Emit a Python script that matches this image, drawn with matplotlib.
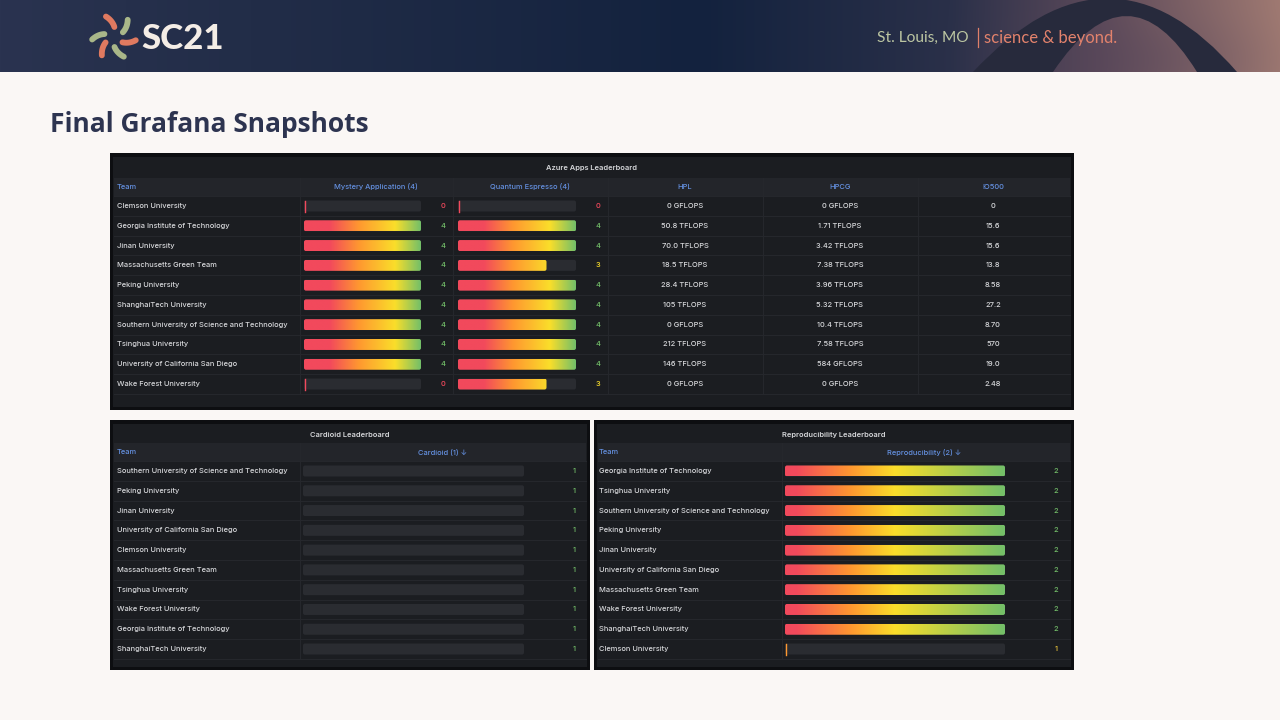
import numpy as np
import matplotlib.pyplot as plt
from matplotlib.colors import LinearSegmentedColormap, to_rgb
from matplotlib.patches import Rectangle, FancyBboxPatch, PathPatch
from matplotlib.path import Path

# ---------------------------------------------------------------- data
azure_teams = ['Clemson University', 'Georgia Institute of Technology', 'Jinan University',
               'Massachusetts Green Team', 'Peking University', 'ShanghaiTech University',
               'Southern University of Science and Technology', 'Tsinghua University',
               'University of California San Diego', 'Wake Forest University']
mystery = [0, 4, 4, 4, 4, 4, 4, 4, 4, 0]
quantum = [0, 4, 4, 3, 4, 4, 4, 4, 4, 3]
hpl = ['0 GFLOPS', '50.8 TFLOPS', '70.0 TFLOPS', '18.5 TFLOPS', '28.4 TFLOPS',
       '105 TFLOPS', '0 GFLOPS', '212 TFLOPS', '146 TFLOPS', '0 GFLOPS']
hpcg = ['0 GFLOPS', '1.71 TFLOPS', '3.42 TFLOPS', '7.38 TFLOPS', '3.96 TFLOPS',
        '5.32 TFLOPS', '10.4 TFLOPS', '7.58 TFLOPS', '584 GFLOPS', '0 GFLOPS']
io500 = ['0', '15.6', '15.6', '13.8', '8.58', '27.2', '8.70', '570', '19.0', '2.48']
azure_cols = ['Team', 'Mystery Application (4)', 'Quantum Espresso (4)', 'HPL', 'HPCG', 'IO500']

cardioid_teams = ['Southern University of Science and Technology', 'Peking University',
                  'Jinan University', 'University of California San Diego', 'Clemson University',
                  'Massachusetts Green Team', 'Tsinghua University', 'Wake Forest University',
                  'Georgia Institute of Technology', 'ShanghaiTech University']
cardioid = [1, 1, 1, 1, 1, 1, 1, 1, 1, 1]

repro_teams = ['Georgia Institute of Technology', 'Tsinghua University',
               'Southern University of Science and Technology', 'Peking University',
               'Jinan University', 'University of California San Diego',
               'Massachusetts Green Team', 'Wake Forest University',
               'ShanghaiTech University', 'Clemson University']
repro = [2, 2, 2, 2, 2, 2, 2, 2, 2, 1]

# ---------------------------------------------------------------- style
RED, ORANGE, YELLOW, GREEN = '#f2495c', '#ff9830', '#fade2a', '#73bf69'
azure_cmap = LinearSegmentedColormap.from_list(
    'az', [(0, RED), (0.22, RED), (0.47, ORANGE), (0.78, YELLOW), (1, GREEN)])
repro_cmap = LinearSegmentedColormap.from_list(
    'rp', [(0, RED), (0.05, RED), (0.3, ORANGE), (0.5, YELLOW), (1, GREEN)])
azure_vcol = {0: RED, 3: YELLOW, 4: GREEN}
repro_vcol = {1: '#eac43a', 2: GREEN}

PANEL = '#1b1d21'
HEAD = '#23252a'
SEP = '#26282d'
BAR_BG = '#2a2c31'
TXT = '#d6d7da'
BLUE = '#6490e0'
TFONT = ['Inter', 'DejaVu Sans']
FS = 5.4
TW = 'medium'
grad = np.linspace(0, 1, 256).reshape(1, -1)

fig = plt.figure(figsize=(12.8, 7.2), dpi=100)
fig.patch.set_facecolor('#faf7f5')
ax = fig.add_axes([0, 0, 1, 1])
ax.axis('off')

# ---------------------------------------------------------------- banner
xs = np.arange(1280)
stops_x = [0, 250, 700, 950, 1100, 1280]
stops_c = ['#2a3350', '#222d48', '#13223e', '#2a3049', '#5d4a5a', '#a07a72']
band = np.zeros((72, 1280, 3))
for ch in range(3):
    row = np.interp(xs, stops_x, [to_rgb(c)[ch] for c in stops_c])
    band[:, :, ch] = row[None, :]
yy, xx = np.mgrid[0:72, 0:1280]
glow = np.exp(-(((xx - 1140) / 120.0) ** 2 + ((yy - 60) / 40.0) ** 2))
band = band * (1 - 0.25 * glow[..., None]) + 0.25 * glow[..., None] * np.array(to_rgb('#4b3f58'))
ax.imshow(band, extent=(0, 1280, 72, 0), aspect='auto', zorder=0)

arch = Path([(973, 72), (1110, -75), (1237, 72), (1197, 72), (1128, -40), (1053, 72), (973, 72)],
            [Path.MOVETO, Path.CURVE3, Path.CURVE3, Path.LINETO, Path.CURVE3, Path.CURVE3,
             Path.CLOSEPOLY])
ax.add_patch(PathPatch(arch, fc='#272a3c', ec='none', zorder=1))

# logo pinwheel
SALMON, SAGE = '#e07a60', '#a9b789'
cx, cy = 114, 37
for ang, col in [(80, SALMON), (155, SAGE), (205, SALMON), (265, SAGE), (320, SALMON), (20, SAGE)]:
    a = np.deg2rad(ang)
    t = np.linspace(0.25, 1, 20)
    r = 6 + 16 * t
    th = a + 0.55 * t
    ax.plot(cx + r * np.cos(th), cy - r * np.sin(th), color=col, lw=4.2,
            solid_capstyle='round', zorder=2)
ax.text(141, 39, 'SC21', fontsize=25, weight='black', color='#f4ede6', family='Lato',
        va='center', ha='left', zorder=2)

ax.text(877, 38, 'St. Louis, MO', fontsize=11.2, color='#bcc6a2', family='Lato',
        va='center', ha='left', zorder=2)
ax.plot([978, 978], [28, 47], color='#e0806a', lw=0.9, zorder=2)
ax.text(984, 38, 'science & beyond.', fontsize=12, color='#e2826c', family='Lato',
        va='center', ha='left', zorder=2)

ax.text(50, 125, 'Final Grafana Snapshots', fontsize=19, weight='bold', color='#2d3450',
        family='Open Sans', va='center', ha='left')


# ---------------------------------------------------------------- helpers
def panel(x0, y0, x1, y1, title, head_y):
    ax.add_patch(Rectangle((x0, y0), x1 - x0, y1 - y0, fc='#0d0e11', ec='none', zorder=1))
    ax.add_patch(Rectangle((x0 + 3, y0 + 4), x1 - x0 - 6, y1 - y0 - 7, fc=PANEL, ec='none', zorder=1))
    ax.add_patch(Rectangle((x0 + 4, head_y), x1 - x0 - 8, 18, fc=HEAD, ec='none', zorder=1))
    ax.text((x0 + x1) / 2, y0 + 15, title, fontsize=FS, color=TXT, family=TFONT,
            weight='semibold', ha='center', va='center', zorder=4)


def gauge(x0, x1, yc, frac, cmap, tick=None):
    h = 11
    ax.add_patch(FancyBboxPatch((x0, yc - h / 2), x1 - x0, h,
                                boxstyle='round,pad=0,rounding_size=2',
                                fc=BAR_BG, ec='none', zorder=2))
    if frac > 0:
        clip = FancyBboxPatch((x0, yc - h / 2), (x1 - x0) * frac, h,
                              boxstyle='round,pad=0,rounding_size=2', fc='none', ec='none')
        ax.add_patch(clip)
        im = ax.imshow(grad, cmap=cmap, extent=(x0, x1, yc + h / 2, yc - h / 2),
                       aspect='auto', interpolation='bilinear', zorder=3)
        im.set_clip_path(clip)
    elif tick is not None:
        ax.plot([x0 + 0.8, x0 + 0.8], [yc - h / 2, yc + h / 2], color=tick, lw=1, zorder=3)


def rows_grid(x0, x1, first, step, n, col_x, head_y):
    for i in range(n + 1):
        y = first - step / 2 + i * step
        ax.plot([x0, x1], [y, y], color=SEP, lw=0.7, zorder=2)
    for cxv in col_x:
        ax.plot([cxv, cxv], [head_y, first - step / 2 + n * step], color=SEP, lw=0.7, zorder=2)


STEP = 19.78

# ---------------------------------------------------------------- Azure apps table
panel(110, 153, 1074, 410, 'Azure Apps Leaderboard', 178)
first = 206
rows_grid(114, 1070, first, STEP, len(azure_teams), [300, 453, 608, 763, 918], 178)
ax.text(117, 187, azure_cols[0], fontsize=FS, color=BLUE, family=TFONT, weight=TW,
        va='center', zorder=4)
for lbl, xc in zip(azure_cols[1:], [376, 530, 685, 840, 993]):
    ax.text(xc, 187, lbl, fontsize=FS, color=BLUE, family=TFONT, weight=TW,
            ha='center', va='center', zorder=4)
for i, team in enumerate(azure_teams):
    y = first + i * STEP
    ax.text(117, y, team, fontsize=FS, color=TXT, family=TFONT, weight=TW, va='center', zorder=4)
    for v, bx0, bx1, vx in [(mystery[i], 304, 421, 445), (quantum[i], 458, 576, 600)]:
        gauge(bx0, bx1, y, v / 4, azure_cmap, tick=RED)
        ax.text(vx, y, str(v), fontsize=FS, color=azure_vcol[v], family=TFONT, weight=TW,
                ha='right', va='center', zorder=4)
    for s, xc in zip([hpl[i], hpcg[i], io500[i]], [685, 840, 993]):
        ax.text(xc, y, s, fontsize=FS, color=TXT, family=TFONT, weight=TW,
                ha='center', va='center', zorder=4)

# ---------------------------------------------------------------- Cardioid table
panel(110, 420, 590, 670, 'Cardioid Leaderboard', 443)
first = 471
rows_grid(114, 586, first, STEP, len(cardioid_teams), [300], 443)
ax.text(117, 452, 'Team', fontsize=FS, color=BLUE, family=TFONT, weight=TW, va='center', zorder=4)
ax.text(443, 452, 'Cardioid (1) \u2193', fontsize=FS, color=BLUE, family=TFONT, weight=TW,
        ha='center', va='center', zorder=4)
for i, team in enumerate(cardioid_teams):
    y = first + i * STEP
    ax.text(117, y, team, fontsize=FS, color=TXT, family=TFONT, weight=TW, va='center', zorder=4)
    gauge(303, 524, y, 0, azure_cmap)
    ax.text(576, y, str(cardioid[i]), fontsize=FS, color=GREEN, family=TFONT, weight=TW,
            ha='right', va='center', zorder=4)

# ---------------------------------------------------------------- Reproducibility table
panel(594, 420, 1074, 670, 'Reproducibility Leaderboard', 443)
rows_grid(598, 1070, first, STEP, len(repro_teams), [782], 443)
ax.text(599, 452, 'Team', fontsize=FS, color=BLUE, family=TFONT, weight=TW, va='center', zorder=4)
ax.text(924, 452, 'Reproducibility (2) \u2193', fontsize=FS, color=BLUE, family=TFONT, weight=TW,
        ha='center', va='center', zorder=4)
for i, team in enumerate(repro_teams):
    y = first + i * STEP
    ax.text(599, y, team, fontsize=FS, color=TXT, family=TFONT, weight=TW, va='center', zorder=4)
    gauge(785, 1005, y, (repro[i] - 1) / 1, repro_cmap, tick=ORANGE)
    ax.text(1058, y, str(repro[i]), fontsize=FS, color=repro_vcol[repro[i]], family=TFONT,
            weight=TW, ha='right', va='center', zorder=4)

ax.set_xlim(0, 1280)
ax.set_ylim(720, 0)
fig.savefig('out.png', dpi=100, facecolor=fig.get_facecolor())
